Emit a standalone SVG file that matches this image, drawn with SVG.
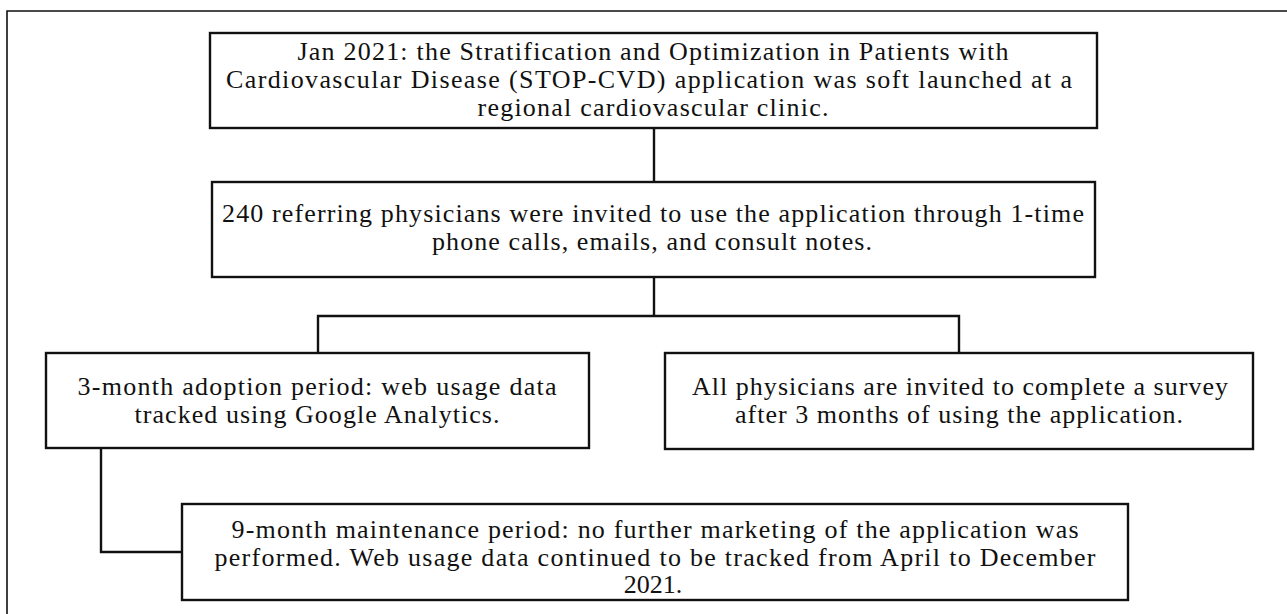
<svg xmlns="http://www.w3.org/2000/svg" width="1287" height="614" viewBox="0 0 1287 614">
  <style>
    .box { fill: #ffffff; stroke: #111111; stroke-width: 2.4; }
    .frame { fill: none; stroke: #111111; stroke-width: 1.6; }
    .link { fill: none; stroke: #111111; stroke-width: 2.4; }
    text { font-family: "Liberation Serif", "Times New Roman", serif; font-size: 26px; fill: #111111; text-anchor: middle; }
  </style>
  <rect x="0" y="0" width="1287" height="614" fill="#ffffff"/>
  <!-- outer figure frame -->
  <path class="frame" d="M7,614 V11 H1287"/>

  <g id="connectors">
    <path class="link" d="M654,128 V182"/>
    <path class="link" d="M654,277 V316"/>
    <path class="link" d="M318,353 V316 H959 V353"/>
    <path class="link" d="M101,448 V552 H182"/>
  </g>

  <g id="launch">
    <rect class="box" x="210" y="33" width="887" height="95"/>
    <text x="653" y="60" textLength="711" lengthAdjust="spacing">Jan 2021: the Stratification and Optimization in Patients with</text>
    <text x="649" y="88" textLength="846" lengthAdjust="spacing">Cardiovascular Disease (STOP-CVD) application was soft launched at a</text>
    <text x="653" y="116" textLength="351" lengthAdjust="spacing">regional cardiovascular clinic.</text>
  </g>

  <g id="invitation">
    <rect class="box" x="212" y="182" width="883" height="95"/>
    <text x="653" y="222" textLength="862" lengthAdjust="spacing">240 referring physicians were invited to use the application through 1-time</text>
    <text x="652" y="250" textLength="440" lengthAdjust="spacing">phone calls, emails, and consult notes.</text>
  </g>

  <g id="adoption">
    <rect class="box" x="46" y="353" width="543" height="95"/>
    <text x="317" y="395" textLength="479" lengthAdjust="spacing">3-month adoption period: web usage data</text>
    <text x="317" y="423" textLength="365" lengthAdjust="spacing">tracked using Google Analytics.</text>
  </g>

  <g id="survey">
    <rect class="box" x="665" y="353" width="588" height="96"/>
    <text x="960" y="395" textLength="536" lengthAdjust="spacing">All physicians are invited to complete a survey</text>
    <text x="959" y="423" textLength="448" lengthAdjust="spacing">after 3 months of using the application.</text>
  </g>

  <g id="maintenance">
    <rect class="box" x="182" y="504" width="946" height="96"/>
    <text x="655" y="538" textLength="847" lengthAdjust="spacing">9-month maintenance period: no further marketing of the application was</text>
    <text x="655" y="566" textLength="881" lengthAdjust="spacing">performed. Web usage data continued to be tracked from April to December</text>
    <text x="653" y="593">2021.</text>
  </g>
</svg>
